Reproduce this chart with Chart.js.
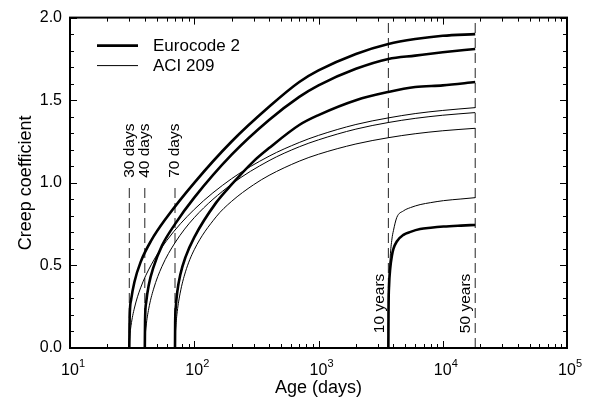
<!DOCTYPE html>
<html><head><meta charset="utf-8">
<script src="https://cdn.jsdelivr.net/npm/chart.js@4/dist/chart.umd.min.js"></script>
<style>html,body{margin:0;padding:0;background:#fff}#wrap{width:593px;height:400px}</style>
</head><body><div id="wrap"><canvas id="c" width="593" height="400"></canvas></div>
<script>
// ---- data ----
const seriesNames = ['Eurocode 2', 'ACI 209'];

const ages30 = [30, 30.2, 31, 33, 37, 45, 60, 100, 200, 400, 700, 1000, 2000, 3650, 6000, 10000, 18250];
const ec2_30 = [0, 0.18, 0.29, 0.40, 0.52, 0.65, 0.79, 1.00, 1.25, 1.46, 1.61, 1.68, 1.78, 1.84, 1.87, 1.89, 1.90];
const aci_30 = [0, 0.055, 0.136, 0.242, 0.364, 0.503, 0.650, 0.839, 1.025, 1.161, 1.244, 1.287, 1.353, 1.393, 1.419, 1.438, 1.455];

const ages40 = [40, 40.2, 41, 43, 47, 55, 70, 100, 200, 400, 700, 1000, 2000, 3650, 6000, 10000, 18250];
const ec2_40 = [0, 0.17, 0.275, 0.38, 0.49, 0.62, 0.75, 0.91, 1.17, 1.38, 1.52, 1.59, 1.69, 1.75, 1.77, 1.79, 1.81];
const aci_40 = [0, 0.054, 0.133, 0.237, 0.356, 0.494, 0.637, 0.789, 0.992, 1.134, 1.218, 1.260, 1.325, 1.365, 1.390, 1.409, 1.425];

const ages70 = [70, 70.2, 71, 73, 77, 85, 100, 150, 200, 300, 400, 700, 1000, 2000, 3650, 6000, 10000, 18250];
const ec2_70 = [0, 0.15, 0.245, 0.34, 0.44, 0.55, 0.67, 0.88, 0.99, 1.13, 1.21, 1.35, 1.41, 1.50, 1.55, 1.58, 1.59, 1.61];
const aci_70 = [0, 0.05, 0.124, 0.221, 0.332, 0.461, 0.595, 0.794, 0.888, 0.988, 1.045, 1.131, 1.173, 1.235, 1.273, 1.297, 1.315, 1.33];

const ages3650 = [3650, 3660, 3700, 3776, 3900, 4008, 4266, 4827, 5500, 6577, 8000, 10140, 14000, 18250];
const ec2_3650 = [0, 0.22, 0.38, 0.48, 0.56, 0.60, 0.645, 0.685, 0.703, 0.72, 0.728, 0.735, 0.741, 0.745];
const aci_3650 = [0, 0.15, 0.40, 0.55, 0.66, 0.71, 0.79, 0.83, 0.85, 0.868, 0.88, 0.892, 0.902, 0.91];

const markerAges = [30, 40, 70, 3650, 18250];
const markerLabels = ['30 days', '40 days', '70 days', '10 years', '50 years'];
const markerTop = [0.98, 0.98, 0.98, 2.0, 2.0];

const xTickExponents = [1, 2, 3, 4, 5];
const yTickValues = [0, 0.5, 1.0, 1.5, 2.0];
const xTitle = 'Age (days)';
const yTitle = 'Creep coefficient';

// ---- build datasets ----
const pts = (ages, vals) => ages.map((a, i) => ({x: a, y: vals[i]}));
const THICK = 2.6, THIN = 1;
const curve = (ages, vals, w, name) => ({
  label: name, data: pts(ages, vals), borderColor: '#000', borderWidth: w,
  pointRadius: 0, fill: false, cubicInterpolationMode: 'monotone', order: 1
});
const datasets = [];
markerAges.forEach((a, i) => datasets.push({
  label: markerLabels[i], data: [{x: a, y: 0}, {x: a, y: markerTop[i]}],
  borderColor: '#222', borderWidth: 1, borderDash: [10, 5], pointRadius: 0, order: 5
}));
datasets.push(curve(ages30, aci_30, THIN, seriesNames[1]));
datasets.push(curve(ages40, aci_40, THIN, seriesNames[1]));
datasets.push(curve(ages70, aci_70, THIN, seriesNames[1]));
datasets.push(curve(ages3650, aci_3650, THIN, seriesNames[1]));
datasets.push(curve(ages30, ec2_30, THICK, seriesNames[0]));
datasets.push(curve(ages40, ec2_40, THICK, seriesNames[0]));
datasets.push(curve(ages70, ec2_70, THICK, seriesNames[0]));
datasets.push(curve(ages3650, ec2_3650, THICK, seriesNames[0]));

const FONT = "'Liberation Sans', Arial, Helvetica, sans-serif";

const decor = {
  id: 'decor',
  afterDraw(chart) {
    const ctx = chart.ctx, xs = chart.scales.x, ys = chart.scales.y, a = chart.chartArea;
    ctx.save();
    ctx.strokeStyle = '#000'; ctx.fillStyle = '#000';
    // inward ticks
    ctx.lineWidth = 1;
    ctx.beginPath();
    for (let d = 1; d <= 5; d++) {
      for (let m = 1; m <= 9; m++) {
        const v = m * Math.pow(10, d);
        if (v > 1e5) break;
        const px = Math.round(xs.getPixelForValue(v)) + 0.5;
        const len = m === 1 ? 7 : 4;
        ctx.moveTo(px, a.bottom); ctx.lineTo(px, a.bottom - len);
        ctx.moveTo(px, a.top); ctx.lineTo(px, a.top + len);
      }
    }
    for (let k = 0; k <= 20; k++) {
      const py = Math.round(ys.getPixelForValue(k / 10)) + 0.5;
      const len = k % 5 === 0 ? 7 : 4;
      ctx.moveTo(a.left, py); ctx.lineTo(a.left + len, py);
      ctx.moveTo(a.right, py); ctx.lineTo(a.right - len, py);
    }
    ctx.stroke();
    // frame
    ctx.lineWidth = 2;
    ctx.strokeRect(a.left, a.top, a.right - a.left, a.bottom - a.top);
    // x tick labels with exponents
    ctx.textBaseline = 'alphabetic';
    xTickExponents.forEach(e => {
      const px = xs.getPixelForValue(Math.pow(10, e));
      ctx.font = '16px ' + FONT;
      const w = ctx.measureText('10').width;
      ctx.textAlign = 'left';
      ctx.fillText('10', px - w / 2, a.bottom + 27);
      ctx.font = '11px ' + FONT;
      ctx.fillText(String(e), px + w / 2, a.bottom + 19);
    });
    // legend
    const lx = a.left + 27, ly = a.top + 28;
    [[seriesNames[0], THICK], [seriesNames[1], THIN]].forEach((s, i) => {
      const y = ly + i * 20;
      ctx.lineWidth = s[1];
      ctx.beginPath(); ctx.moveTo(lx, y); ctx.lineTo(lx + 41, y); ctx.stroke();
      ctx.font = '17px ' + FONT; ctx.textAlign = 'left'; ctx.textBaseline = 'middle';
      ctx.fillText(s[0], lx + 56, y + 1);
    });
    // marker labels (rotated)
    ctx.font = '15.5px ' + FONT;
    ctx.textAlign = 'left'; ctx.textBaseline = 'middle';
    markerAges.forEach((age, i) => {
      const years = age > 1000;
      const x = xs.getPixelForValue(age) + (years ? -9 : 0);
      const y = ys.getPixelForValue(years ? 0.09 : 1.03);
      ctx.save(); ctx.translate(x, y); ctx.rotate(-Math.PI / 2);
      ctx.fillText(markerLabels[i], 0, 0);
      ctx.restore();
    });
    ctx.restore();
  }
};

new Chart(document.getElementById('c'), {
  type: 'line',
  data: {datasets},
  plugins: [decor],
  options: {
    responsive: false, animation: false, devicePixelRatio: 1,
    layout: {padding: {top: 15, right: 26, left: 0, bottom: 0}},
    plugins: {legend: {display: false}, tooltip: {enabled: false}},
    scales: {
      x: {
        type: 'logarithmic', min: 10, max: 100000,
        grid: {display: false, drawTicks: false}, border: {display: false},
        ticks: {display: false},
        title: {display: true, text: xTitle, color: '#000', font: {family: FONT, size: 18}, padding: {top: 0, bottom: 1}},
        afterFit: s => { s.height = 52; }
      },
      y: {
        min: 0, max: 2,
        grid: {display: false, drawTicks: false}, border: {display: false},
        afterBuildTicks: s => { s.ticks = yTickValues.map(v => ({value: v})); },
        ticks: {color: '#000', padding: 8, font: {family: FONT, size: 16}, callback: v => Number(v).toFixed(1)},
        title: {display: true, text: yTitle, color: '#000', font: {family: FONT, size: 18}, padding: {top: 15, bottom: 0}},
        afterFit: s => { s.width = 70; }
      }
    }
  }
});
</script></body></html>
